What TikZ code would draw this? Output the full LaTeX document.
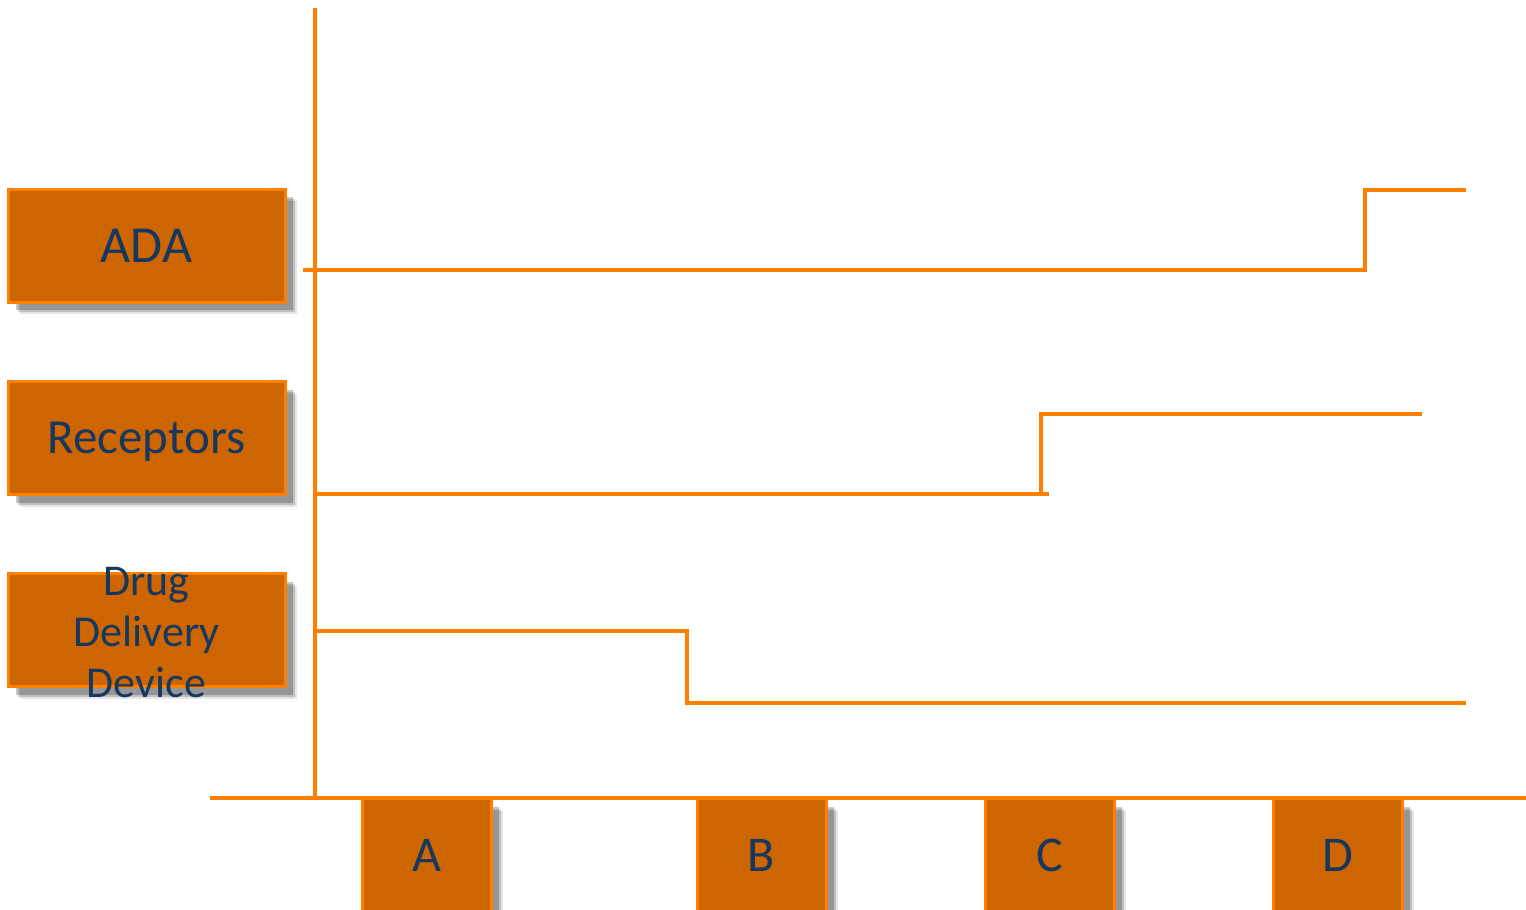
\documentclass[tikz,border=0pt]{standalone}
\usepackage{fontspec}
\setmainfont{Carlito}
\usetikzlibrary{shadows}
\definecolor{boxfill}{HTML}{CD6600}
\definecolor{boxline}{HTML}{FF8000}
\definecolor{txt}{HTML}{17375E}
\tikzset{
  plotline/.style={draw=boxline, line width=4.5pt},
  softshadow/.style={
    general shadow={fill=black, opacity=.10, shadow xshift=12pt, shadow yshift=-12pt},
    general shadow={fill=black, opacity=.16, shadow xshift=10pt, shadow yshift=-10pt},
    general shadow={fill=black, opacity=.22, shadow xshift=8pt, shadow yshift=-8pt}},
  labelbox/.style={softshadow, fill=boxfill, draw=boxline, line width=3pt,
    minimum width=277pt, minimum height=113pt, inner sep=0pt, text=txt,
    text depth=0pt, font=\fontsize{50}{51}\selectfont, align=center},
  catbox/.style={softshadow, fill=boxfill, draw=boxline, line width=3pt,
    minimum width=129pt, minimum height=130pt, inner sep=0pt},
  cattext/.style={text=txt, font=\fontsize{50}{51}\selectfont}
}
\begin{document}
\begin{tikzpicture}[x=1pt,y=-1pt]
\useasboundingbox (0,0) rectangle (1526,910);
\clip (0,0) rectangle (1526,910);
% left labels
\node[labelbox, font=\fontsize{52}{51}\selectfont] (ada) at (146.5,245.5) {ADA};
\node[labelbox, font=\fontsize{49}{51}\selectfont] (rec) at (146.5,438) {Receptors};
\node[labelbox] (drug) at (146.5,630) {};
\node[text=txt, font=\fontsize{44}{51}\selectfont, align=center] (drugtxt) at (146.5,633) {Drug\\Delivery\\Device};
% axes
\coordinate (ytop) at (315,8);
\coordinate (origin) at (315,798);
\coordinate (xleft) at (210,798);
\coordinate (xright) at (1526,798);
\draw[plotline] (ytop) -- (origin);
\draw[plotline] (xleft) -- (xright);
% bottom category boxes
\node[catbox, anchor=north] (A) at (426.5,797) {};
\node[catbox, anchor=north] (B) at (761.5,797) {};
\node[catbox, anchor=north] (C) at (1049.5,797) {};
\node[catbox, anchor=north] (D) at (1337.5,797) {};
\node[cattext] (At) at (426.5,855) {A};
\node[cattext] (Bt) at (761.5,855) {B};
\node[cattext] (Ct) at (1049.5,855) {C};
\node[cattext] (Dt) at (1337.5,855) {D};
% ADA line
\coordinate (a0) at (303,270);
\coordinate (a1) at (1365,270);
\coordinate (a2) at (1365,190);
\coordinate (a3) at (1466,190);
\draw[plotline] (a0) -- (a1) -- (a2) -- (a3);
% Receptors line
\coordinate (r0) at (315,494);
\coordinate (r1) at (1049,494);
\coordinate (r2) at (1041,494);
\coordinate (r3) at (1041,414);
\coordinate (r4) at (1422,414);
\draw[plotline] (r0) -- (r1);
\draw[plotline] (r2) -- (r3) -- (r4);
% Drug line
\coordinate (d0) at (315,631);
\coordinate (d1) at (687,631);
\coordinate (d2) at (687,703);
\coordinate (d3) at (1466,703);
\draw[plotline] (d0) -- (d1) -- (d2) -- (d3);
\end{tikzpicture}
\end{document}
